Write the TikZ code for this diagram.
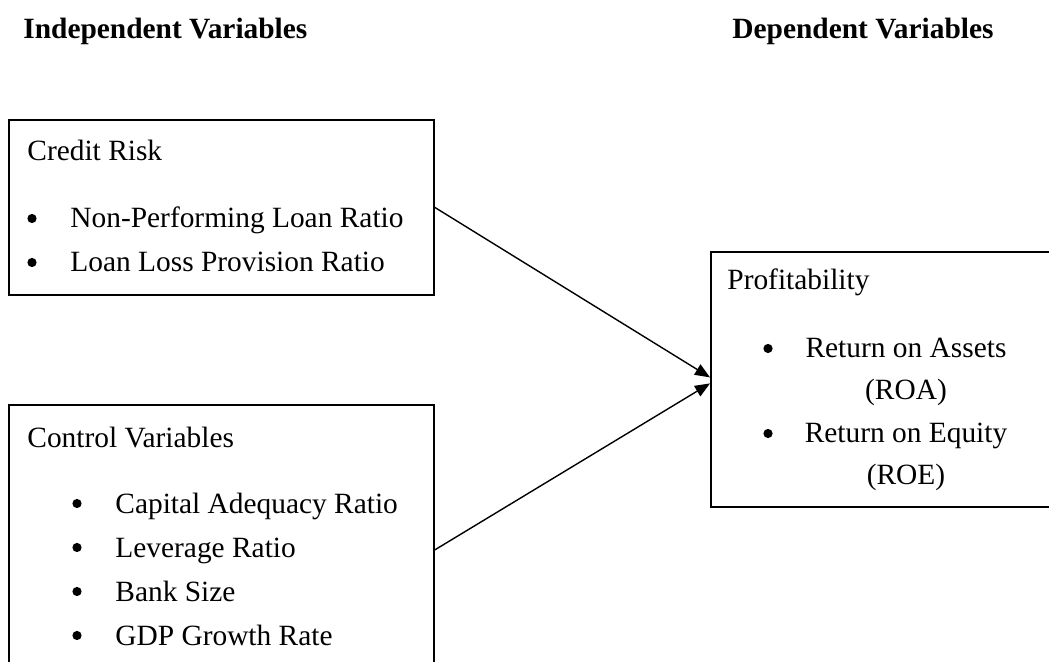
\documentclass[tikz,border=0pt]{standalone}
\usepackage{fontspec}
\setmainfont{Liberation Serif}
\usetikzlibrary{arrows.meta}

\begin{document}
\begin{tikzpicture}[x=0.5pt,y=-0.5pt,>={Triangle[length=7.5pt,width=6pt]},
    box/.style={draw,line width=0.9pt,rectangle,anchor=north west,inner sep=0pt},
    txt/.style={inner sep=0pt,font=\fontsize{14.7}{17}\selectfont},
    head/.style={txt,font=\fontsize{14.7}{17}\selectfont\bfseries},
    dot/.style={circle,fill,inner sep=0pt,minimum size=4.6pt}]
        \useasboundingbox(0,0)rectangle(1049,662);
        \clip(0,0)rectangle(1049,662);
        % titles
        \node[head,anchor=base west](indep) at(23,39){Independent Variables};
        \node[head,anchor=base west](dep) at(732,39){Dependent Variables};
        % boxes
        \node[box,minimum width=212.5pt,minimum height=87.5pt](credit) at(8,119){};
        \node[box,minimum width=212.5pt,minimum height=145pt](control) at(8,404){};
        \node[box,minimum width=175pt,minimum height=127.5pt](profit) at(710,251){};
        % credit risk
        \node[txt,anchor=base west](crhead) at(27,161){Credit Risk};
        \node[dot](crb1) at(32,218.5){};
        \node[txt,anchor=base west](npl) at(70,228){Non-Performing Loan Ratio};
        \node[dot](crb2) at(32,262.5){};
        \node[txt,anchor=base west](llp) at(70,272){Loan Loss Provision Ratio};
        % control variables
        \node[txt,anchor=base west](cvhead) at(27,447){Control Variables};
        \node[dot](cvb1) at(77,503.5){};
        \node[txt,anchor=base west](car) at(115,513){Capital Adequacy Ratio};
        \node[dot](cvb2) at(77,547.5){};
        \node[txt,anchor=base west](lev) at(115,557){Leverage Ratio};
        \node[dot](cvb3) at(77,591.5){};
        \node[txt,anchor=base west](size) at(115,601){Bank Size};
        \node[dot](cvb4) at(77,635.5){};
        \node[txt,anchor=base west](gdp) at(115,645){GDP Growth Rate};
        % profitability
        \node[txt,anchor=base west](prhead) at(727,290){Profitability};
        \node[dot](prb1) at(768,348.5){};
        \node[txt,anchor=base](roa1) at(906,358){Return on Assets};
        \node[txt,anchor=base](roa2) at(906,400){(ROA)};
        \node[dot](prb2) at(768,433.5){};
        \node[txt,anchor=base](roe1) at(906,443){Return on Equity};
        \node[txt,anchor=base](roe2) at(906,484){(ROE)};
        % arrows
        \draw[->,line width=0.7pt](credit.east)--([yshift=1pt]profit.west);
        \draw[->,line width=0.7pt](control.east)--([yshift=-2pt]profit.west);
    \end{tikzpicture}
\end{document}
